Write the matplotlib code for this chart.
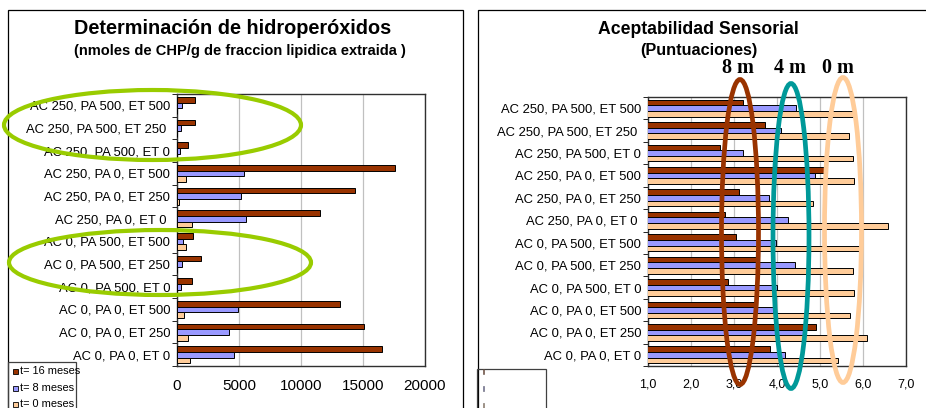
import numpy as np
import matplotlib
matplotlib.use("Agg")
import matplotlib.pyplot as plt
from matplotlib.patches import Ellipse, Rectangle
from matplotlib.ticker import FuncFormatter

plt.rcParams['font.family'] = ['Liberation Sans', 'DejaVu Sans']

# tratamientos (de abajo hacia arriba)
tratamientos = ["AC 0, PA 0, ET 0", "AC 0, PA 0, ET 250", "AC 0, PA 0, ET 500",
                "AC 0, PA 500, ET 0", "AC 0, PA 500, ET 250", "AC 0, PA 500, ET 500",
                "AC 250, PA 0, ET 0 ", "AC 250, PA 0, ET 250", "AC 250, PA 0, ET 500",
                "AC 250, PA 500, ET 0", "AC 250, PA 500, ET 250 ", "AC 250, PA 500, ET 500"]

# hidroperoxidos (nmoles CHP/g)
hp_16 = [16570, 15120, 13130, 1180, 1960, 1290, 11550, 14340, 17560, 890, 1480, 1480]
hp_8 = [4620, 4210, 4890, 300, 400, 460, 5590, 5150, 5370, 270, 300, 380]
hp_0 = [1070, 890, 560, 0, 0, 700, 1180, 150, 700, 0, 0, 0]

# aceptabilidad sensorial (puntuaciones)
as_8 = [3.83, 4.91, 3.50, 2.86, 3.50, 3.04, 2.80, 3.12, 5.09, 2.67, 3.71, 3.21]
as_4 = [4.19, 4.62, 3.90, 4.00, 4.43, 3.98, 4.25, 3.82, 4.88, 3.21, 4.10, 4.45]
as_0 = [5.42, 6.09, 5.69, 5.78, 5.76, 5.92, 6.57, 4.83, 5.78, 5.76, 5.67, 5.77]

series_names = ["t= 16 meses", "t= 8 meses", "t= 0 meses"]
c_red, c_blue, c_peach = "#993300", "#9999FF", "#FFCC99"

W, H = 926, 408
fig = plt.figure(figsize=(W / 100, H / 100), dpi=100)
fig.patch.set_facecolor("white")


def px_axes(x0, y0, x1, y1):
    return fig.add_axes([x0 / W, 1 - y1 / H, (x1 - x0) / W, (y1 - y0) / H])


def px_ellipse(cx, cy, w, h, color, lw):
    fig.patches.append(Ellipse((cx / W, 1 - cy / H), w / W, h / H, fill=False,
                               edgecolor=color, lw=lw, transform=fig.transFigure, zorder=10))


def draw_bars(ax, top, mid, low):
    y = np.arange(len(tratamientos))
    ax.barh(y + 0.25, top, height=0.25, color=c_red, edgecolor="black", lw=0.7, zorder=3)
    ax.barh(y, mid, height=0.25, color=c_blue, edgecolor="black", lw=0.7, zorder=3)
    ax.barh(y - 0.25, low, height=0.25, color=c_peach, edgecolor="black", lw=0.7, zorder=3)
    ax.set_ylim(-0.5, len(tratamientos) - 0.5)
    ax.set_yticks(y)
    ax.set_yticklabels(tratamientos, fontsize=9.4)
    ax.set_yticks(np.arange(len(tratamientos) + 1) - 0.5, minor=True)
    ax.tick_params(axis="y", which="major", length=0, pad=5)
    ax.tick_params(axis="y", which="minor", length=3.5, color="black")
    ax.tick_params(axis="x", length=0, pad=9)
    ax.grid(axis="x", color="#c0c0c0", lw=0.9, zorder=0)
    for s in ax.spines.values():
        s.set_color("#303030")
        s.set_linewidth(1.0)


# panel izquierdo
fig.patches.append(Rectangle((8 / W, -0.1), 455 / W, 1.1 - 10 / H, fill=False,
                             edgecolor="black", lw=0.9, transform=fig.transFigure))
ax1 = px_axes(177, 94, 425, 366)
draw_bars(ax1, hp_16, hp_8, hp_0)
ax1.set_xlim(0, 20000)
ax1.set_xticks([0, 5000, 10000, 15000, 20000])
ax1.tick_params(axis="x", labelsize=11)
fig.text(233 / W, 1 - 28 / H, "Determinación de hidroperóxidos", ha="center", va="center",
         fontsize=14.3, fontweight="bold")
fig.text(240 / W, 1 - 51.5 / H, "(nmoles de CHP/g de fraccion lipidica extraida )",
         ha="center", va="center", fontsize=10.5, fontweight="bold")

# leyenda
fig.patches.append(Rectangle((8 / W, -0.1), 68 / W, 0.1 + 1 - 362 / H, fill=False,
                             edgecolor="#404040", lw=0.9, transform=fig.transFigure))
for name, col, yy in zip(series_names, [c_red, c_blue, c_peach], [371, 388, 404]):
    fig.patches.append(Rectangle((12.5 / W, 1 - (yy + 2.5) / H), 5 / W, 5 / H, facecolor=col,
                                 edgecolor="black", lw=0.6, transform=fig.transFigure))
    fig.text(20 / W, 1 - yy / H, name, ha="left", va="center", fontsize=7.9)

# panel derecho
fig.patches.append(Rectangle((478 / W, -0.1), 1, 1.1 - 10 / H, fill=False,
                             edgecolor="black", lw=0.9, transform=fig.transFigure))
ax2 = px_axes(648, 97, 906, 366)
draw_bars(ax2, as_8, as_4, as_0)
ax2.set_xlim(1, 7)
ax2.set_xticks(np.arange(1, 8))
ax2.xaxis.set_major_formatter(FuncFormatter(lambda v, p: f"{v:.1f}".replace(".", ",")))
ax2.tick_params(axis="x", labelsize=9)
fig.text(698 / W, 1 - 29 / H, "Aceptabilidad Sensorial", ha="center", va="center",
         fontsize=12.7, fontweight="bold")
fig.text(699 / W, 1 - 51 / H, "(Puntuaciones)", ha="center", va="center",
         fontsize=11.7, fontweight="bold")

fig.patches.append(Rectangle((477 / W, -0.1), 69 / W, 0.1 + 1 - 369 / H, fill=False,
                             edgecolor="#404040", lw=0.9, transform=fig.transFigure))
for col, yy in zip([c_red, c_blue, c_peach], [371, 388.5, 405]):
    fig.patches.append(Rectangle((482.5 / W, 1 - (yy + 2.5) / H), 1.5 / W, 5 / H, facecolor=col,
                                 edgecolor="#555555", lw=0.4, transform=fig.transFigure))

# marcas de tiempo
for txt, x in [("8 m", 738), ("4 m", 790), ("0 m", 838)]:
    fig.text(x / W, 1 - 68 / H, txt, ha="center", va="center", fontsize=14.5,
             fontweight="bold", family="Liberation Serif")
px_ellipse(740, 232, 37, 305, "#993300", 3.4)
px_ellipse(791, 236, 36, 305, "#009999", 3.4)
px_ellipse(843, 230, 37, 305, "#FFCC99", 3.4)

# elipses verdes
px_ellipse(152.5, 125, 297, 70, "#99CC00", 3.0)
px_ellipse(160, 262.5, 302, 65, "#99CC00", 3.0)

fig.savefig("out.png", dpi=100)
